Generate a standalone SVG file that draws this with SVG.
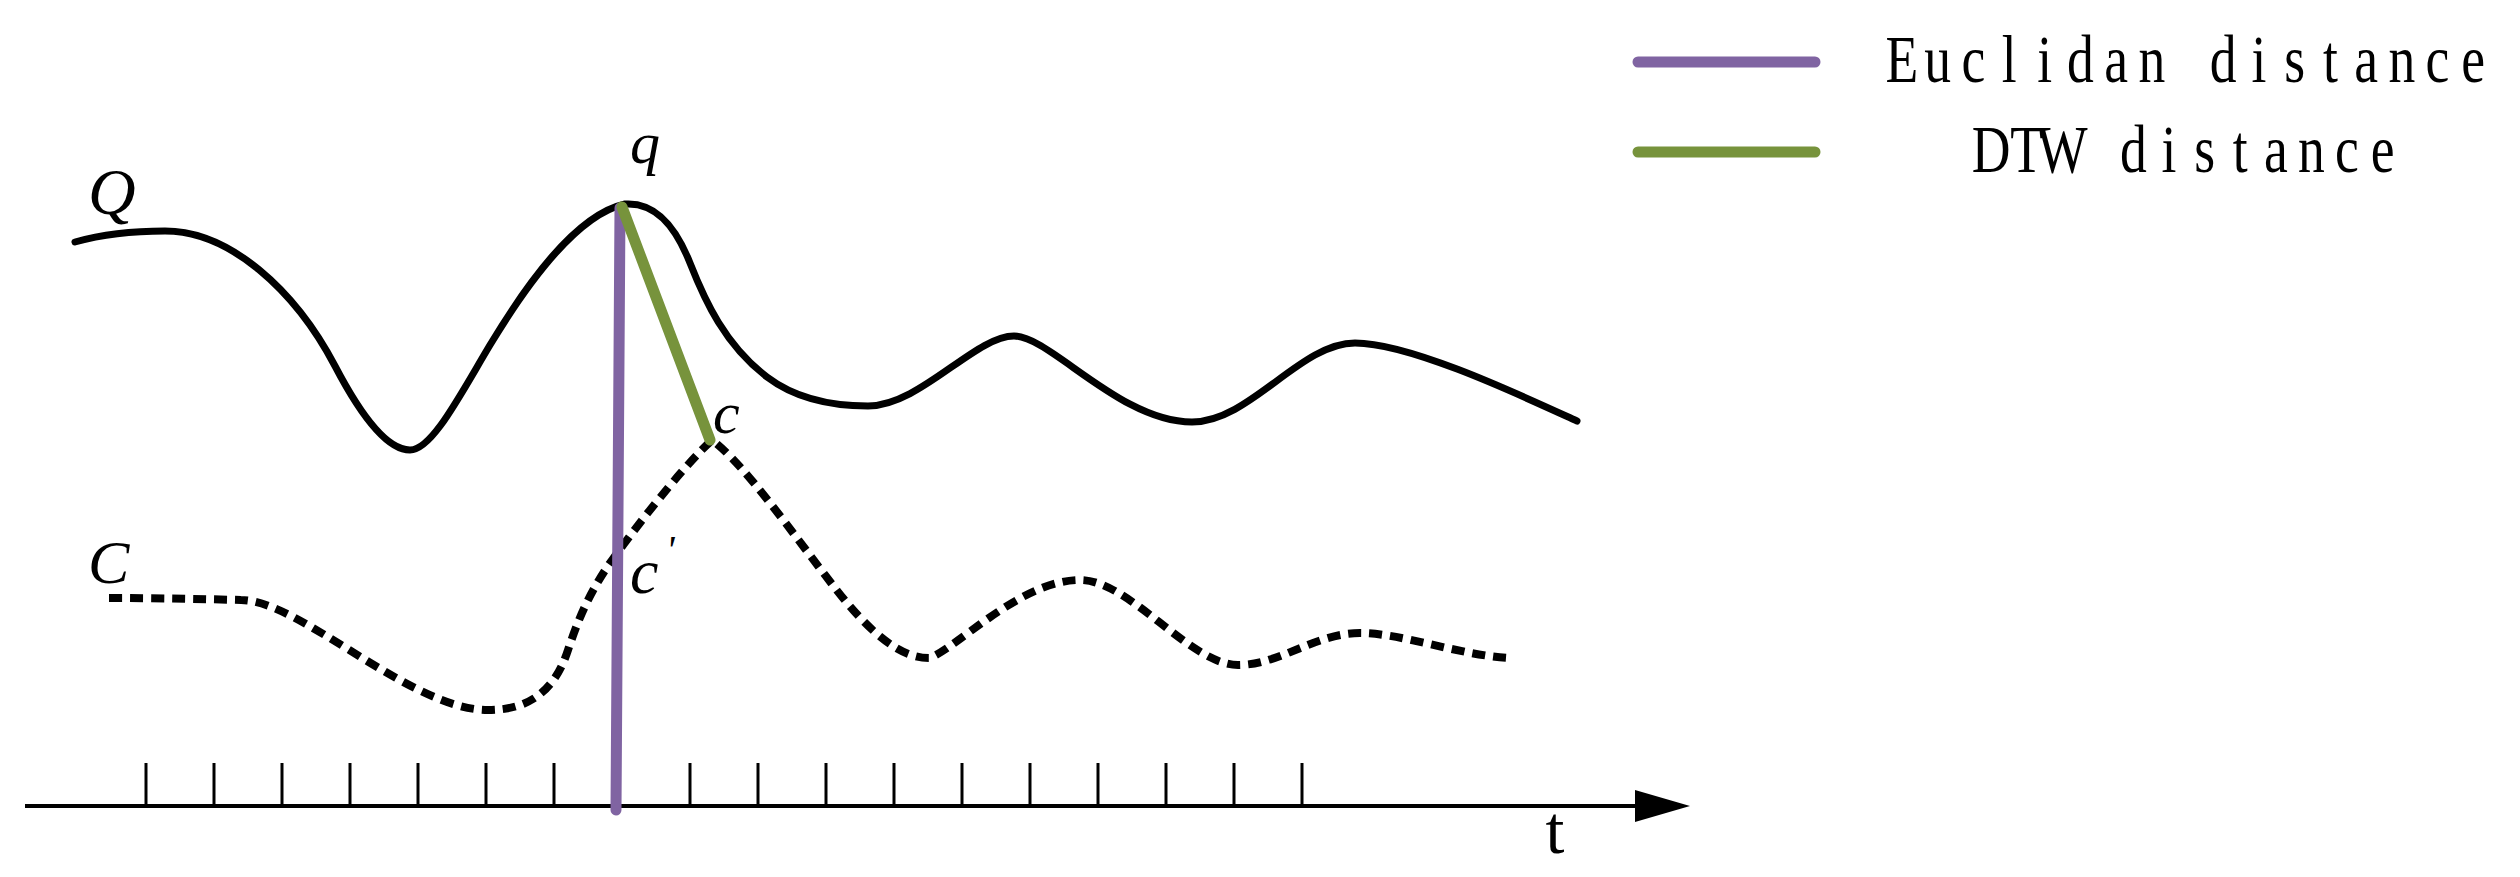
<svg xmlns="http://www.w3.org/2000/svg" width="2520" height="877" viewBox="0 0 2520 877">
<style>
.curve{fill:none;stroke:#000;stroke-width:7;stroke-linecap:round;stroke-linejoin:round}
.dash{fill:none;stroke:#000;stroke-width:8;stroke-dasharray:13 8}
.tick{stroke:#000;stroke-width:3}
.lbl{font-family:"Liberation Serif","Times New Roman",serif;font-style:italic;fill:#000}
.leg{font-family:"Liberation Serif","Times New Roman",serif;fill:#000;text-anchor:middle}
.euc{stroke:#8064A2;stroke-width:11;stroke-linecap:round}
.dtw{stroke:#77933C;stroke-width:11;stroke-linecap:round}
</style>
<rect width="2520" height="877" fill="#fff"/>
<g id="axis">
<line x1="25" y1="806" x2="1640" y2="806" stroke="#000" stroke-width="4"/>
<polygon points="1635,790 1690,806 1635,822" fill="#000"/>
<g id="ticks">
<line class="tick" x1="146" y1="763" x2="146" y2="806"/>
<line class="tick" x1="214" y1="763" x2="214" y2="806"/>
<line class="tick" x1="282" y1="763" x2="282" y2="806"/>
<line class="tick" x1="350" y1="763" x2="350" y2="806"/>
<line class="tick" x1="418" y1="763" x2="418" y2="806"/>
<line class="tick" x1="486" y1="763" x2="486" y2="806"/>
<line class="tick" x1="554" y1="763" x2="554" y2="806"/>
<line class="tick" x1="690" y1="763" x2="690" y2="806"/>
<line class="tick" x1="758" y1="763" x2="758" y2="806"/>
<line class="tick" x1="826" y1="763" x2="826" y2="806"/>
<line class="tick" x1="894" y1="763" x2="894" y2="806"/>
<line class="tick" x1="962" y1="763" x2="962" y2="806"/>
<line class="tick" x1="1030" y1="763" x2="1030" y2="806"/>
<line class="tick" x1="1098" y1="763" x2="1098" y2="806"/>
<line class="tick" x1="1166" y1="763" x2="1166" y2="806"/>
<line class="tick" x1="1234" y1="763" x2="1234" y2="806"/>
<line class="tick" x1="1302" y1="763" x2="1302" y2="806"/>
</g>
<text class="leg" x="1555" y="853" font-size="68">t</text>
</g>
<g id="series-Q">
<path class="curve" d="M75,242 C100,235 130,231 165,231 C230,231 295,290 335,366 C358,410 385,450 410,450 C432,450 460,395 490,345 C525,287 575,215 625,204 C655,202 675,225 690,263 C705,301 725,345 767,377 C800,402 840,406 868,406 C920,406 975,336 1014,336 C1050,336 1120,422 1192,422 C1250,422 1300,343 1355,343 C1410,343 1520,395 1577,421"/>
<text class="lbl" x="88" y="214" font-size="66">Q</text>
<text class="lbl" x="630" y="163" font-size="60">q</text>
</g>
<g id="series-C">
<path class="dash" d="M109,598 C160,598 200,599 241,600 C300,600 410,710 488,710 C530,710 555,690 568,650 C578,620 590,590 615,556 C650,508 690,460 712,440 C745,465 790,530 835,588 C870,633 900,658 929,658 C955,650 1020,580 1080,580 C1130,580 1190,665 1238,665 C1280,665 1315,633 1360,633 C1400,633 1460,655 1508,658"/>
<text class="lbl" x="88" y="583" font-size="62">C</text>
<text class="lbl" x="713" y="433" font-size="60">c</text>
<text class="lbl" x="630" y="593" font-size="64">c<tspan x="666" y="563" font-size="40">'</tspan></text>
</g>
<g id="connectors">
<line class="euc" x1="620" y1="208" x2="616" y2="810"/>
<line class="dtw" x1="622" y1="207" x2="710" y2="440"/>
</g>
<g id="legend">
<line class="euc" x1="1638" y1="62" x2="1815" y2="62"/>
<line class="dtw" x1="1638" y1="152" x2="1815" y2="152"/>
<text class="leg" transform="scale(0.8,1)" y="82" font-size="67" x="2377.5 2422.1 2466.8 2511.4 2556 2600.6 2645.3 2689.9 2734.5 2779.1 2823.8 2868.4 2913 2957.6 3002.3 3046.9 3091.5">Euclidan distance</text>
<text class="leg" transform="scale(0.8,1)" y="172" font-size="67" x="2488.75 2533.25 2577.75 2622.25 2666.75 2711.25 2755.75 2800.25 2844.75 2889.25 2933.75 2978.25">DTW distance</text>
</g>
</svg>
